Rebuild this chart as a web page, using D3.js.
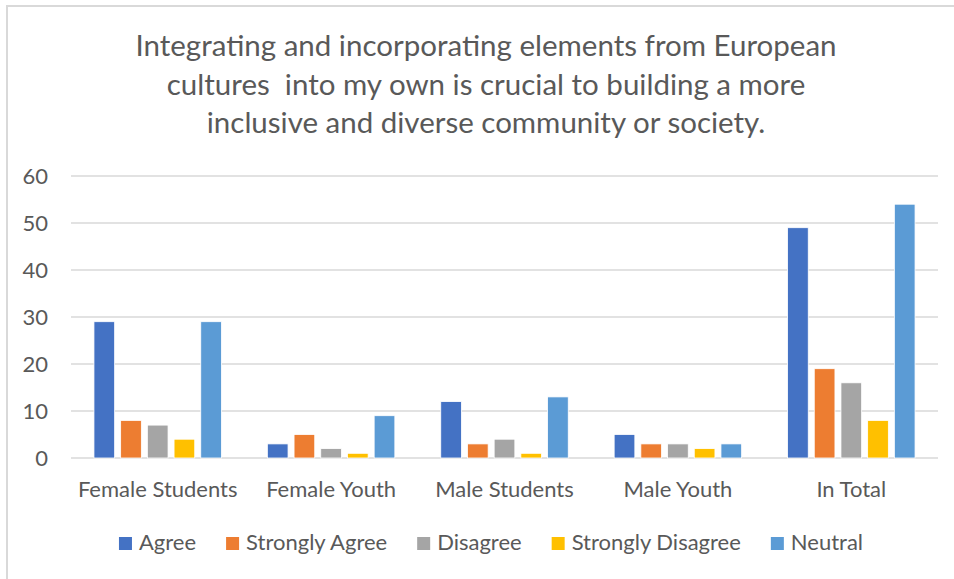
<!DOCTYPE html>
<html>
<head>
<meta charset="utf-8">
<script src="https://cdn.jsdelivr.net/npm/d3@7"></script>
<style>
  html, body { margin: 0; padding: 0; background: #fff; }
  svg { display: block; }
  text { font-family: Lato, "Open Sans", sans-serif; fill: #595959; }
</style>
</head>
<body>
<svg id="chart" width="954" height="579"></svg>
<script>
// Survey responses by group
const categories = ["Female Students", "Female Youth", "Male Students", "Male Youth", "In Total"];
const seriesNames = ["Agree", "Strongly Agree", "Disagree", "Strongly Disagree", "Neutral"];
const agree            = [29, 3, 12, 5, 49];
const stronglyAgree    = [8, 5, 3, 3, 19];
const disagree         = [7, 2, 4, 3, 16];
const stronglyDisagree = [4, 1, 1, 2, 8];
const neutral          = [29, 9, 13, 3, 54];
const yTicks = [0, 10, 20, 30, 40, 50, 60];
const titleLines = [
  "Integrating and incorporating elements from European",
  "cultures  into my own is crucial to building a more",
  "inclusive and diverse community or society."
];
const colors = ["#4472C4", "#ED7D31", "#A5A5A5", "#FFC000", "#5B9BD5"];

const seriesValues = [agree, stronglyAgree, disagree, stronglyDisagree, neutral];
const rows = categories.map((c, i) => ({
  category: c,
  values: seriesNames.map((s, j) => ({ series: s, value: seriesValues[j][i] }))
}));

const svg = d3.select("#chart");
const W = 954, H = 579;
const plot = { left: 71, right: 938, top: 176, bottom: 458 };

// Outer chart frame (top and left edges visible)
svg.append("path")
  .attr("d", `M7,${H} L7,6 L${W},6`)
  .attr("fill", "none")
  .attr("stroke", "#d9d9d9")
  .attr("stroke-width", 2);

// Title
svg.append("text")
  .attr("text-anchor", "middle")
  .attr("font-size", 29.5)
  .selectAll("tspan")
  .data(titleLines)
  .join("tspan")
  .attr("x", 486)
  .attr("y", (d, i) => 56 + i * 38.5)
  .attr("xml:space", "preserve")
  .style("white-space", "pre")
  .text(d => d);

// Scales
const x0 = d3.scaleBand().domain(categories).range([plot.left, plot.right]).padding(0);
const groupWidth = 133.5;
const x1 = d3.scaleBand().domain(seriesNames).range([0, groupWidth])
  .paddingInner(0.225).paddingOuter(0.1125);
const y = d3.scaleLinear().domain([0, 60]).range([plot.bottom, plot.top]);

// Gridlines
svg.append("g")
  .selectAll("line")
  .data(yTicks)
  .join("line")
  .attr("x1", plot.left)
  .attr("x2", plot.right)
  .attr("y1", d => y(d))
  .attr("y2", d => y(d))
  .attr("stroke", "#d9d9d9")
  .attr("stroke-width", 1.5);

// Y axis labels
const yAxis = d3.axisLeft(y).tickValues(yTicks).tickSize(0).tickPadding(0);
const yG = svg.append("g").attr("transform", "translate(48,0)").call(yAxis);
yG.select(".domain").remove();
yG.selectAll("text")
  .attr("font-size", 22)
  .attr("font-family", "Lato, sans-serif")
  .attr("fill", "#595959")
  .attr("dy", "0.36em");

// Bars
const groups = svg.append("g")
  .selectAll("g")
  .data(rows)
  .join("g")
  .attr("transform", d => `translate(${x0(d.category) + x0.bandwidth() / 2 - groupWidth / 2},0)`);

groups.selectAll("rect")
  .data(d => d.values)
  .join("rect")
  .attr("x", d => x1(d.series))
  .attr("width", x1.bandwidth())
  .attr("y", d => y(d.value))
  .attr("height", d => y(0) - y(d.value))
  .attr("fill", (d, j) => colors[j])
  .attr("stroke", "#ffffff")
  .attr("stroke-width", 0.8);

// X axis labels
const xAxis = d3.axisBottom(x0).tickSize(0).tickPadding(0);
const xG = svg.append("g").attr("transform", `translate(0,${plot.bottom})`).call(xAxis);
xG.select(".domain").remove();
xG.selectAll("text")
  .attr("font-size", 22)
  .attr("font-family", "Lato, sans-serif")
  .attr("fill", "#595959")
  .attr("dy", null)
  .attr("y", 39);

// Legend
const legend = svg.append("g");
const items = legend.selectAll("g")
  .data(seriesNames)
  .join("g");
items.append("rect")
  .attr("width", 13)
  .attr("height", 13)
  .attr("y", 537)
  .attr("fill", (d, j) => colors[j]);
items.append("text")
  .attr("x", 20)
  .attr("y", 550)
  .attr("font-size", 22)
  .text(d => d);
let cursor = 0;
items.each(function () {
  const w = this.querySelector("text").getComputedTextLength();
  d3.select(this).attr("transform", `translate(${cursor},0)`);
  cursor += 20 + w + 30;
});
const legendWidth = cursor - 30;
legend.attr("transform", `translate(${491 - legendWidth / 2},0)`);
</script>
</body>
</html>
